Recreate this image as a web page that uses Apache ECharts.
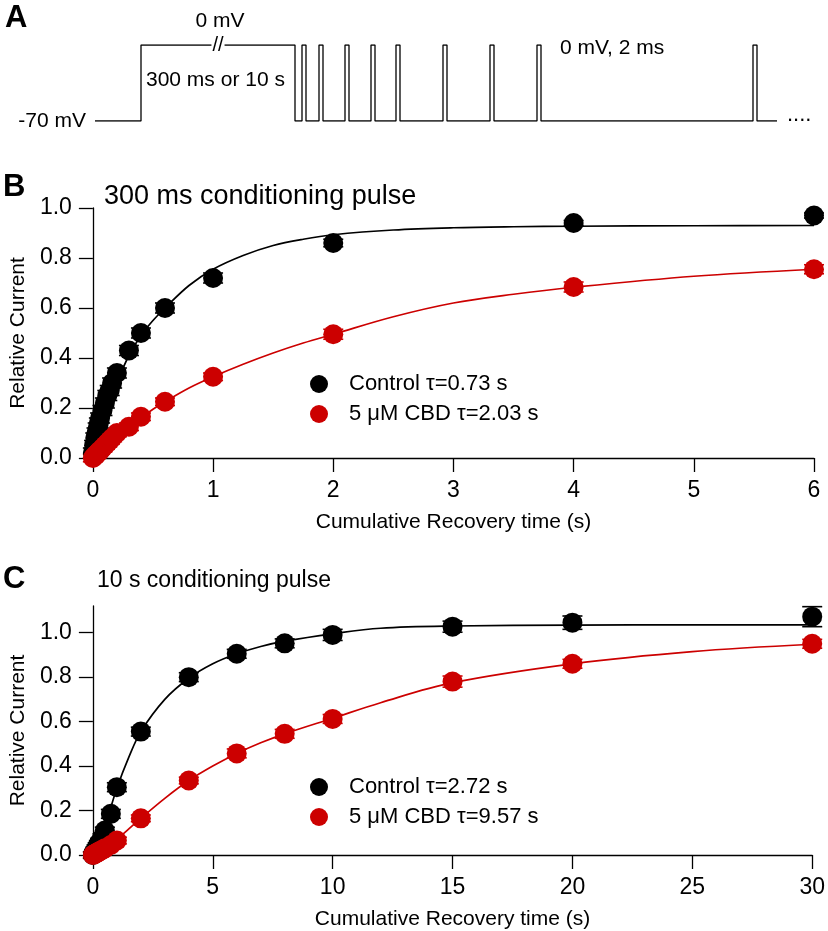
<!DOCTYPE html>
<html><head><meta charset="utf-8">
<script src="https://cdn.jsdelivr.net/npm/echarts@6/dist/echarts.min.js"></script>
<style>html,body{margin:0;padding:0;background:#fff}#c{width:828px;height:931px}</style>
</head><body><div id="c"></div><script>
const FONT = '"Liberation Sans", Arial, sans-serif';
const BLACK = '#000000';
const RED = '#cc0000';

// ---- Panel B: 300 ms conditioning pulse ----
const bTime      = [0, 0.01, 0.02, 0.03, 0.04, 0.05, 0.06, 0.08, 0.1, 0.12, 0.14, 0.16, 0.2, 0.3, 0.4, 0.6, 1, 2, 4, 6];
const bControl   = [0.02, 0.05, 0.08, 0.10, 0.12, 0.14, 0.16, 0.19, 0.22, 0.25, 0.27, 0.30, 0.34, 0.43, 0.50, 0.60, 0.72, 0.86, 0.94, 0.97];
const bControlEr = [0.02, 0.02, 0.02, 0.02, 0.02, 0.02, 0.02, 0.02, 0.02, 0.02, 0.02, 0.02, 0.02, 0.02, 0.02, 0.02, 0.02, 0.015, 0.01, 0.01];
const bCBD       = [0.0, 0.005, 0.01, 0.015, 0.02, 0.025, 0.03, 0.04, 0.05, 0.06, 0.07, 0.08, 0.10, 0.125, 0.165, 0.225, 0.325, 0.495, 0.684, 0.755];
const bCBDEr     = [0.015, 0.015, 0.015, 0.015, 0.015, 0.015, 0.015, 0.015, 0.015, 0.015, 0.015, 0.015, 0.015, 0.015, 0.015, 0.015, 0.015, 0.02, 0.02, 0.018];
const bFitTime    = [0, 0.1, 0.2, 0.3, 0.4, 0.5, 0.6, 0.8, 1.0, 1.25, 1.5, 1.75, 2, 2.5, 3, 3.5, 4, 5, 6];
const bFitControl = [0.02, 0.16, 0.30, 0.41, 0.49, 0.55, 0.60, 0.69, 0.755, 0.81, 0.85, 0.875, 0.893, 0.912, 0.921, 0.925, 0.927, 0.929, 0.93];
const bFitCBD     = [0, 0.04, 0.08, 0.12, 0.16, 0.195, 0.225, 0.28, 0.325, 0.375, 0.42, 0.46, 0.495, 0.565, 0.62, 0.655, 0.683, 0.727, 0.755];
const bNames = ['Control \u03c4=0.73 s', '5 \u03bcM CBD \u03c4=2.03 s'];

// ---- Panel C: 10 s conditioning pulse ----
const cTime      = [0, 0.05, 0.1, 0.15, 0.2, 0.25, 0.3, 0.4, 0.5, 0.75, 1, 2, 4, 6, 8, 10, 15, 20, 30];
const cControl   = [0.0, 0.01, 0.02, 0.03, 0.04, 0.05, 0.06, 0.08, 0.11, 0.185, 0.305, 0.555, 0.80, 0.905, 0.952, 0.99, 1.027, 1.045, 1.072];
const cControlEr = [0.015, 0.015, 0.015, 0.015, 0.015, 0.015, 0.015, 0.015, 0.015, 0.02, 0.02, 0.02, 0.02, 0.02, 0.02, 0.025, 0.025, 0.03, 0.045];
const cCBD       = [0, 0.003, 0.006, 0.009, 0.012, 0.015, 0.018, 0.024, 0.03, 0.045, 0.065, 0.165, 0.335, 0.457, 0.545, 0.612, 0.78, 0.86, 0.95];
const cCBDEr     = [0.012, 0.012, 0.012, 0.012, 0.012, 0.012, 0.012, 0.012, 0.012, 0.015, 0.015, 0.015, 0.015, 0.02, 0.02, 0.02, 0.025, 0.02, 0.02];
const cFitTime    = [0, 0.5, 1, 1.5, 2, 3, 4, 5, 6, 7, 8, 10, 12, 15, 20, 25, 30];
const cFitControl = [0, 0.13, 0.30, 0.44, 0.555, 0.70, 0.795, 0.86, 0.905, 0.938, 0.962, 0.995, 1.02, 1.03, 1.034, 1.035, 1.035];
const cFitCBD     = [0, 0.03, 0.07, 0.118, 0.165, 0.255, 0.335, 0.40, 0.457, 0.505, 0.545, 0.615, 0.685, 0.775, 0.86, 0.915, 0.948];
const cNames = ['Control \u03c4=2.72 s', '5 \u03bcM CBD \u03c4=9.57 s'];

// ---- Panel A: stimulation protocol (schematic units) ----
const aBaseStart = 95, aStepUp = 141, aCondEnd = 295, aBaseEnd = 777;
const aPulseStarts = [302, 319, 345, 371, 396, 443, 490, 537, 753];
const aPulseWidth = 4;
const aHold = -70, aStep = 0;

function zip(x, y, e) { return x.map((v, i) => e ? [v, y[i], e[i]] : [v, y[i]]); }

const protocol = [[aBaseStart, aHold], [aStepUp, aHold], [aStepUp, aStep], [aCondEnd, aStep], [aCondEnd, aHold]];
aPulseStarts.forEach(p => {
  protocol.push([p, aHold], [p, aStep], [p + aPulseWidth, aStep], [p + aPulseWidth, aHold]);
});
protocol.push([aBaseEnd, aHold]);

function errRender(params, api) {
  const x = api.value(0), y = api.value(1), e = api.value(2);
  const lo = api.coord([x, y - e]), hi = api.coord([x, y + e]);
  const hw = 10;
  const style = { stroke: api.visual('color'), lineWidth: 1.6 };
  return { type: 'group', children: [
    { type: 'line', shape: { x1: lo[0], y1: lo[1], x2: hi[0], y2: hi[1] }, style },
    { type: 'line', shape: { x1: lo[0] - hw, y1: lo[1], x2: lo[0] + hw, y2: lo[1] }, style },
    { type: 'line', shape: { x1: hi[0] - hw, y1: hi[1], x2: hi[0] + hw, y2: hi[1] }, style }
  ]};
}

const axisCommon = {
  axisLine: { show: true, lineStyle: { color: BLACK, width: 1.3 } },
  axisTick: { show: true, inside: false, length: 14, lineStyle: { color: BLACK, width: 1.3 } },
  splitLine: { show: false },
  nameLocation: 'middle',
  nameTextStyle: { fontSize: 21, color: BLACK, fontFamily: FONT }
};

function xAx(grid, max, interval) {
  return Object.assign({}, axisCommon, {
    type: 'value', gridIndex: grid, min: 0, max: max, interval: interval,
    name: 'Cumulative Recovery time (s)', nameGap: 54,
    axisLabel: { fontSize: 23, color: BLACK, fontFamily: FONT, margin: 21 }
  });
}
function yAx(grid, max, ticks) {
  return Object.assign({}, axisCommon, {
    type: 'value', gridIndex: grid, min: 0, max: max, interval: 0.2,
    name: 'Relative Current', nameGap: 63,
    axisTick: Object.assign({}, axisCommon.axisTick, { customValues: ticks }),
    axisLabel: { fontSize: 23, color: BLACK, fontFamily: FONT, margin: 21, customValues: ticks,
      formatter: v => v.toFixed(1) }
  });
}
const yTicks = [0, 0.2, 0.4, 0.6, 0.8, 1.0];

function scatter(name, xi, data, color) {
  return { type: 'scatter', name: name, xAxisIndex: xi, yAxisIndex: xi, data: data,
    symbol: 'circle', symbolSize: 20, itemStyle: { color: color, opacity: 1 }, clip: false, z: 5 };
}
function errs(xi, data, color) {
  return { type: 'custom', xAxisIndex: xi, yAxisIndex: xi, data: data, renderItem: errRender,
    itemStyle: { color: color }, clip: false, z: 4, silent: true };
}
function fit(xi, data, color) {
  return { type: 'line', xAxisIndex: xi, yAxisIndex: xi, data: data, smooth: 0.35, showSymbol: false,
    lineStyle: { color: color, width: 1.7 }, itemStyle: { color: color }, z: 3, silent: true };
}

const legendBase = {
  orient: 'vertical', icon: 'circle', itemWidth: 50, itemHeight: 18, itemGap: 8,
  textStyle: { fontSize: 22, color: BLACK, fontFamily: FONT, lineHeight: 22 }, selectedMode: false
};

const txt = (text, x, y, size, align, extra) => ({
  type: 'text', x: x, y: y, z: 10,
  style: Object.assign({ text: text, fontSize: size, fontFamily: FONT, fill: BLACK,
    textAlign: align, textVerticalAlign: 'middle' }, extra || {})
});

const option = {
  animation: false,
  backgroundColor: '#ffffff',
  textStyle: { fontFamily: FONT },
  title: [
    { text: '300 ms conditioning pulse', left: 104, top: 183, textStyle: { fontSize: 27, fontWeight: 'normal', color: BLACK, fontFamily: FONT }, padding: 0 },
    { text: '10 s conditioning pulse', left: 97, top: 569, textStyle: { fontSize: 23, fontWeight: 'normal', color: BLACK, fontFamily: FONT }, padding: 0 }
  ],
  legend: [
    Object.assign({}, legendBase, { data: bNames, left: 305, top: 368 }),
    Object.assign({}, legendBase, { data: cNames, left: 305, top: 771 })
  ],
  grid: [
    { left: 91, top: 208, width: 723, height: 250 },
    { left: 91, top: 606, width: 723, height: 249 },
    { left: 0, top: 45, width: 828, height: 76 }
  ],
  xAxis: [ xAx(0, 6, 1), xAx(1, 30, 5),
    { type: 'value', gridIndex: 2, min: 0, max: 828, show: false } ],
  yAxis: [ yAx(0, 1.0, yTicks), yAx(1, 1.12, yTicks),
    { type: 'value', gridIndex: 2, min: -70, max: 0, show: false } ],
  graphic: [
    txt('A', 5, 18, 31, 'left', { fontWeight: 'bold' }),
    txt('B', 3, 187, 31, 'left', { fontWeight: 'bold' }),
    txt('C', 3, 579, 31, 'left', { fontWeight: 'bold' }),
    txt('-70 mV', 86, 121, 21, 'right'),
    txt('0 mV', 220, 21, 21, 'center'),
    txt('//', 218, 45, 20, 'center', { backgroundColor: '#ffffff', padding: [0, 1] }),
    txt('300 ms or 10 s', 146, 80, 21, 'left'),
    txt('0 mV, 2 ms', 560, 48, 21, 'left'),
    txt('....', 787, 115, 22, 'left')
  ],
  series: [
    fit(0, zip(bFitTime, bFitControl), BLACK),
    fit(0, zip(bFitTime, bFitCBD), RED),
    errs(0, zip(bTime, bControl, bControlEr), BLACK),
    errs(0, zip(bTime, bCBD, bCBDEr), RED),
    scatter(bNames[0], 0, zip(bTime, bControl), BLACK),
    scatter(bNames[1], 0, zip(bTime, bCBD), RED),
    fit(1, zip(cFitTime, cFitControl), BLACK),
    fit(1, zip(cFitTime, cFitCBD), RED),
    errs(1, zip(cTime, cControl, cControlEr), BLACK),
    errs(1, zip(cTime, cCBD, cCBDEr), RED),
    scatter(cNames[0], 1, zip(cTime, cControl), BLACK),
    scatter(cNames[1], 1, zip(cTime, cCBD), RED),
    { type: 'line', xAxisIndex: 2, yAxisIndex: 2, data: protocol, showSymbol: false, silent: true,
      lineStyle: { color: BLACK, width: 1.3 }, itemStyle: { color: BLACK }, z: 2 }
  ]
};

const chart = echarts.init(document.getElementById('c'), null, { renderer: 'canvas' });
chart.setOption(option);
</script></body></html>
